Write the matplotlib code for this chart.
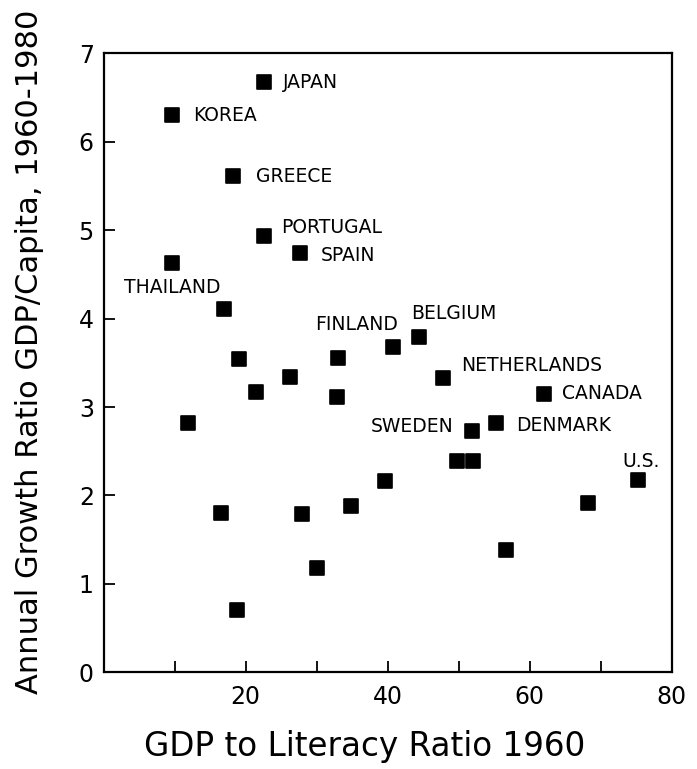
import matplotlib
matplotlib.use("Agg")
import matplotlib.pyplot as plt
from matplotlib.markers import MarkerStyle

# GDP to literacy ratio 1960 (x) vs annual growth ratio 1960-1980 (y)
gdp_literacy = [22.6, 9.7, 18.2, 22.6, 27.6, 9.7, 17.0, 19.0, 21.5, 11.9,
                26.2, 33.0, 32.8, 40.8, 44.4, 47.8, 62.0, 55.3, 51.8, 49.8,
                52.0, 75.2, 68.2, 39.6, 34.8, 28.0, 16.5, 30.0, 56.6, 18.8]
growth = [6.67, 6.30, 5.61, 4.93, 4.74, 4.63, 4.11, 3.54, 3.17, 2.82,
          3.34, 3.56, 3.11, 3.68, 3.79, 3.33, 3.15, 2.82, 2.73, 2.39,
          2.39, 2.18, 1.92, 2.16, 1.88, 1.79, 1.80, 1.18, 1.38, 0.70]
names = ["JAPAN", "KOREA", "GREECE", "PORTUGAL", "SPAIN", "THAILAND", "", "", "", "",
         "", "FINLAND", "", "", "BELGIUM", "NETHERLANDS", "CANADA", "DENMARK", "SWEDEN", "",
         "", "U.S.", "", "", "", "", "", "", "", ""]

x_ticks = [10, 20, 30, 40, 50, 60, 70, 80]
x_ticklabels = ["", "20", "", "40", "", "60", "", "80"]
y_ticks = [0, 1, 2, 3, 4, 5, 6, 7]

# label placement: offset in points and horizontal alignment
label_pos = {
    "JAPAN": ((13.7, 0), "left"),
    "KOREA": ((15, 0), "left"),
    "GREECE": ((17, 0), "left"),
    "PORTUGAL": ((12, 6.5), "left"),
    "SPAIN": ((15, -2), "left"),
    "THAILAND": ((0, -18), "center"),
    "FINLAND": ((13.5, 23.5), "center"),
    "BELGIUM": ((-5.5, 17), "left"),
    "NETHERLANDS": ((13, 9), "left"),
    "CANADA": ((13, 0), "left"),
    "DENMARK": ((14.5, -2), "left"),
    "SWEDEN": ((-13, 3), "right"),
    "U.S.": ((2, 13), "center"),
}

fig = plt.figure(figsize=(6.97, 7.69), dpi=100)
ax = fig.add_axes([0.1485, 0.1257, 0.8155, 0.805])

marker = MarkerStyle("s", joinstyle="round")
ax.plot(gdp_literacy, growth, linestyle="none", marker=marker, markersize=9.5,
        color="black", markeredgewidth=1.2)

for x, y, n in zip(gdp_literacy, growth, names):
    if not n:
        continue
    off, ha = label_pos[n]
    ax.annotate(n, (x, y), xytext=off, textcoords="offset points",
                ha=ha, va="center", fontsize=13.5)

ax.set_xlim(0, 80)
ax.set_ylim(0, 7)
ax.set_xticks(x_ticks)
ax.set_xticklabels(x_ticklabels)
ax.set_yticks(y_ticks)
ax.tick_params(direction="in", length=8, width=1.3, labelsize=17)
ax.tick_params(axis="x", pad=9)
ax.tick_params(axis="y", pad=7)
for s in ax.spines.values():
    s.set_linewidth(1.6)

ax.set_xlabel("GDP to Literacy Ratio 1960", fontsize=23.5)
ax.set_ylabel("Annual Growth Ratio GDP/Capita, 1960-1980", fontsize=22)
ax.xaxis.set_label_coords(0.46, -0.093)
ax.yaxis.set_label_coords(-0.105, 0.518)

fig.savefig("out.png", dpi=100)
